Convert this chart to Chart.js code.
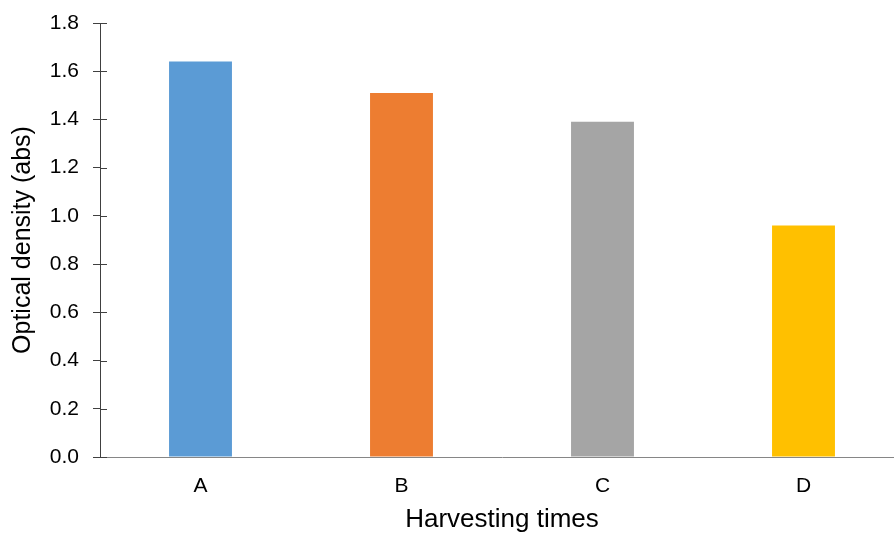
<!DOCTYPE html>
<html>
<head>
<meta charset="utf-8">
<script src="https://cdn.jsdelivr.net/npm/chart.js@4/dist/chart.umd.min.js"></script>
<style>
  html, body { margin: 0; padding: 0; background: #fff; overflow: hidden; }
  #wrap { width: 894px; height: 535px; overflow: hidden; position: relative; }
  #box { width: 910px; height: 535px; position: absolute; left: 0; top: 0; }
</style>
</head>
<body>
<div id="wrap"><div id="box"><canvas id="c"></canvas></div></div>
<script>
const categories = ["A", "B", "C", "D"];
const values = [1.64, 1.51, 1.39, 0.96];
const barColors = ["#5B9BD5", "#ED7D31", "#A5A5A5", "#FFC000"];
const yTitle = "Optical density (abs)";
const xTitle = "Harvesting times";
const yMin = 0, yMax = 1.8, yStep = 0.2;

const innerTicks = {
  id: 'innerTicks',
  afterDraw(chart) {
    const y = chart.scales.y;
    const ctx = chart.ctx;
    ctx.save();
    ctx.strokeStyle = '#404040';
    ctx.lineWidth = 1;
    y.ticks.forEach(t => {
      const py = Math.round(y.getPixelForValue(t.value)) + 0.5;
      ctx.beginPath();
      ctx.moveTo(y.right, py);
      ctx.lineTo(y.right + 7, py);
      ctx.stroke();
    });
    ctx.restore();
  }
};

new Chart(document.getElementById('c'), {
  type: 'bar',
  data: {
    labels: categories,
    datasets: [{ data: values, backgroundColor: barColors, borderWidth: 0,
      barPercentage: 1, categoryPercentage: 0.313 }]
  },
  options: {
    responsive: true,
    maintainAspectRatio: false,
    animation: false,
    plugins: { legend: { display: false }, tooltip: { enabled: false } },
    layout: { padding: { top: 23, right: 6, bottom: 0, left: 0 } },
    scales: {
      x: {
        afterFit(scale) { scale.height = 78; scale.paddingLeft = 0; scale.paddingRight = 0; },
        grid: { display: false, drawTicks: false },
        border: { display: true, color: '#868686', width: 1 },
        ticks: { color: '#000', padding: 17, font: { family: 'Liberation Sans', size: 21 } },
        title: { display: true, text: xTitle, color: '#000',
          font: { family: 'Liberation Sans', size: 26 }, padding: { top: 0, bottom: 0 } }
      },
      y: {
        min: yMin, max: yMax,
        afterFit(scale) { scale.width = 100; scale.paddingTop = 0; scale.paddingBottom = 0; },
        grid: { drawOnChartArea: false, drawTicks: true, tickLength: 7, color: '#404040', tickColor: '#404040', tickWidth: 1 },
        border: { display: true, color: '#404040', width: 1 },
        ticks: { stepSize: yStep, color: '#000', padding: 14,
          font: { family: 'Liberation Sans', size: 21 },
          callback: v => Number(v).toFixed(1) },
        title: { display: true, text: yTitle, color: '#000',
          font: { family: 'Liberation Sans', size: 25 }, padding: { top: 8, bottom: 0 } }
      }
    }
  },
  plugins: [innerTicks]
});
</script>
</body>
</html>
